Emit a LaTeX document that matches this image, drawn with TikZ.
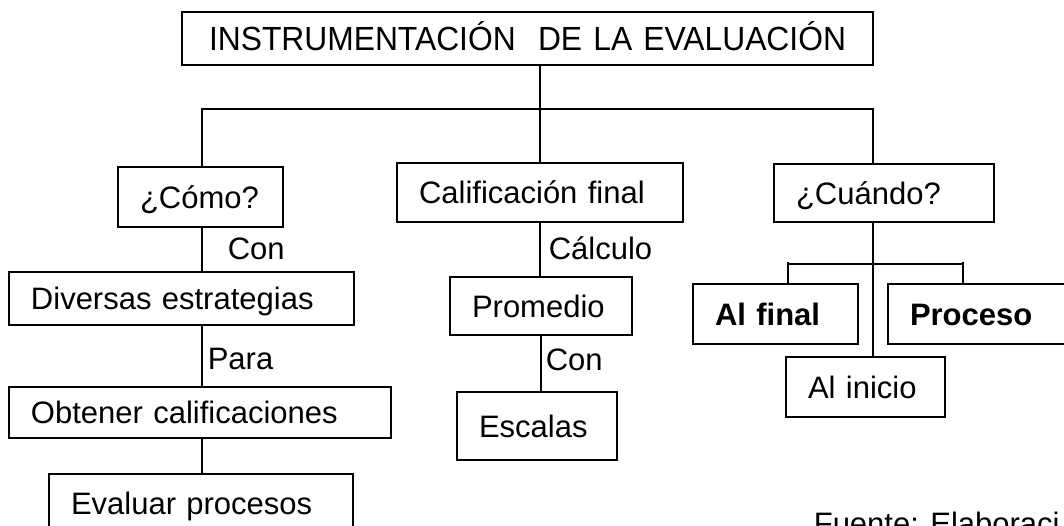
\documentclass[tikz,border=0pt]{standalone}
\usepackage{fontspec}
\setmainfont{Liberation Sans}
\newfontfamily\titlefont[FakeStretch=0.95]{Liberation Sans}
\usepackage{tikz}
\newcommand{\fs}{\fontsize{23.25}{28}\selectfont}

\begin{document}
\begin{tikzpicture}[x=0.75pt, y=-0.75pt, line width=1.2pt, font=\fs,
	box/.style={draw, line width=1.2pt, align=left, inner xsep=16.5pt, text height=16.6pt, text depth=0pt, outer sep=0pt},
	bw/.style={minimum width=#1*0.75pt, text width=(#1-44)*0.75pt},
	bh/.style={minimum height=#1*0.75pt},
	lbl/.style={anchor=base west, inner sep=0pt}]
	\useasboundingbox (0,0) rectangle (1064,525);
	\clip (0,0) rectangle (1064,525);
	% cajas
	\node[box, bw=691, bh=53, align=center, font=\titlefont\fontsize{25.1}{30}\selectfont, text height=18pt] (titulo) at (527.5,38.5) {INSTRUMENTACIÓN\ \ DE LA EVALUACIÓN};
	\node[box, bw=165, bh=60] (como) at (200.5,197) {¿Cómo?};
	\node[box, bw=286, bh=59] (calif) at (540,192.5) {Calificación final};
	\node[box, bw=220, bh=58] (cuando) at (884,193) {¿Cuándo?};
	\node[box, bw=345, bh=53] (diversas) at (181.5,298.5) {Diversas estrategias};
	\node[box, bw=382, bh=51] (obtener) at (200,412.5) {Obtener calificaciones};
	\node[box, bw=304, bh=58] (evaluar) at (201,503) {Evaluar procesos};
	\node[box, bw=182, bh=58] (promedio) at (541,306) {Promedio};
	\node[box, bw=160, bh=68] (escalas) at (537,426) {Escalas};
	\node[box, bw=165, bh=60, line width=2.2pt, font=\fs\bfseries] (alfinal) at (775.5,314) {Al final};
	\node[box, bw=184, bh=60, font=\fs\bfseries] (proceso) at (980,314) {Proceso};
	\node[box, bw=159, bh=60] (alinicio) at (865.5,387) {Al inicio};
	% conectores
	\coordinate (busL) at (202,109);
	\coordinate (busR) at (873,109);
	\coordinate (llave) at (873,264);
	\coordinate (llaveL) at (788,262);
	\coordinate (llaveR) at (963,262);
	\draw (titulo.south -| calif.north) -- (calif.north);
	\draw (busL |- como.north) -- (busL) -- (busR) -- (busR |- cuando.north);
	\draw (busL |- como.south) -- (busL |- diversas.north);
	\draw (busL |- diversas.south) -- (busL |- obtener.north);
	\draw (busL |- obtener.south) -- (busL |- evaluar.north);
	\draw (calif.south) -- (calif.south |- promedio.north);
	\draw (promedio.south) -- (promedio.south |- escalas.north);
	\draw (busR |- cuando.south) -- (busR |- alinicio.north);
	\draw (llaveL |- llave) -- (llaveR |- llave);
	\draw (llaveL |- alfinal.north) -- (llaveL);
	\draw (llaveR |- proceso.north) -- (llaveR);
	% etiquetas
	\node[lbl] (con1) at (227,259) {Con};
	\node[lbl] (para) at (207,369) {Para};
	\node[lbl] (calculo) at (548,259) {Cálculo};
	\node[lbl] (con2) at (545,370) {Con};
	\node[lbl] (fuente) at (813,534) {Fuente: Elaboraci};
\end{tikzpicture}
\end{document}
